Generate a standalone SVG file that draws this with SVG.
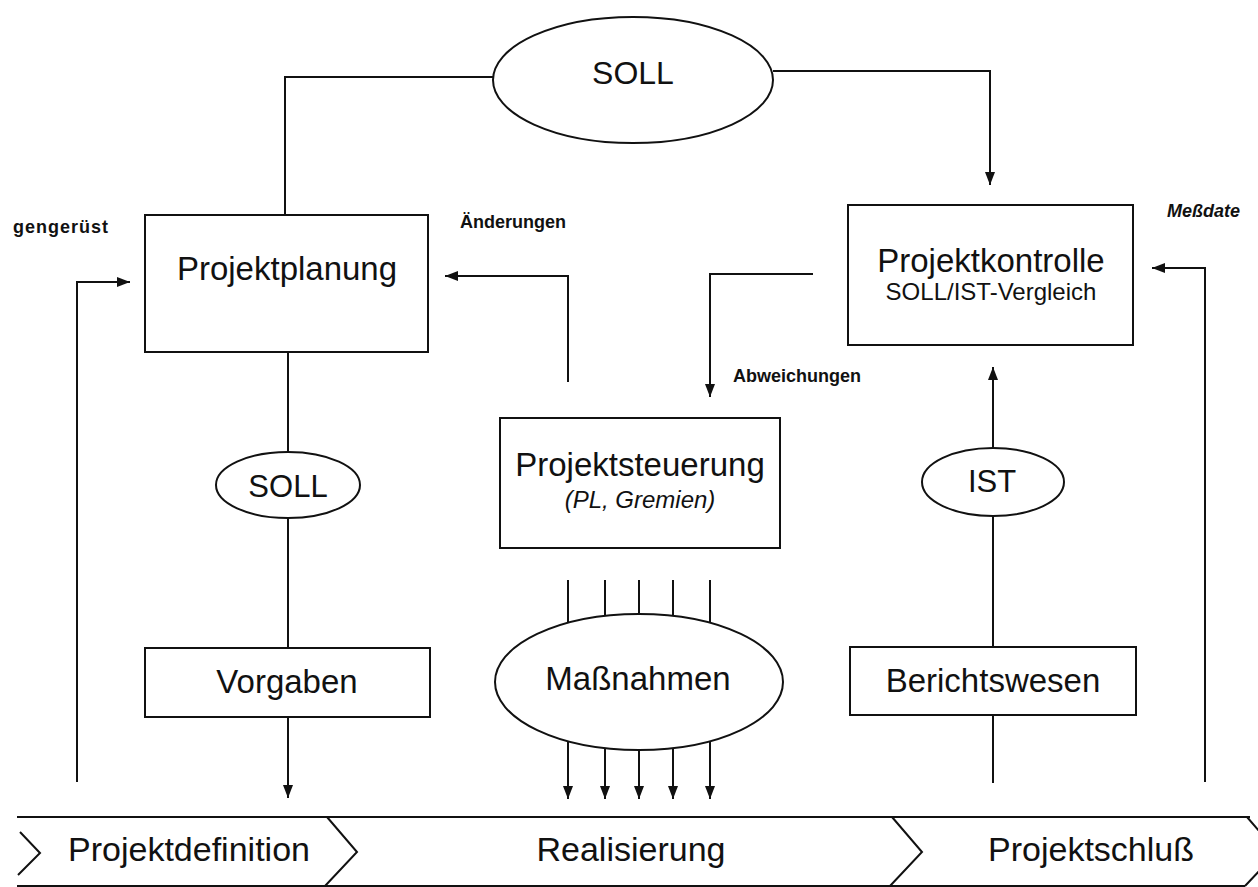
<svg xmlns="http://www.w3.org/2000/svg" width="1258" height="887" viewBox="0 0 1258 887">
<style>
.s{fill:none;stroke:#111;stroke-width:2}
.b{fill:#fff;stroke:#111;stroke-width:2}
.t{font-family:"Liberation Sans",Arial,sans-serif;fill:#111;text-anchor:middle}
.big{font-size:33px}
.mid{font-size:24px}
.lab{font-family:"Liberation Sans",Arial,sans-serif;fill:#111;font-size:18px;font-weight:bold}
</style>
<defs>
<marker id="ah" markerUnits="userSpaceOnUse" markerWidth="14" markerHeight="12" refX="13" refY="5" orient="auto">
<path d="M0,0 L13,5 L0,10 z" fill="#111"/>
</marker>
</defs>
<rect width="1258" height="887" fill="#fff"/>

<g id="connectors">
<polyline class="s" points="493,77 285,77 285,215"/>
<polyline class="s" points="773,71 990,71 990,185" marker-end="url(#ah)"/>
<polyline class="s" points="77,782 77,282 130,282" marker-end="url(#ah)"/>
<polyline class="s" points="568,382 568,276 445,276" marker-end="url(#ah)"/>
<polyline class="s" points="813,274 710,274 710,397" marker-end="url(#ah)"/>
<polyline class="s" points="1205,782 1205,268 1152,268" marker-end="url(#ah)"/>
<line class="s" x1="993" y1="448" x2="993" y2="367" marker-end="url(#ah)"/>
<line class="s" x1="288" y1="352" x2="288" y2="453"/>
<line class="s" x1="288" y1="518" x2="288" y2="648"/>
<line class="s" x1="288" y1="717" x2="288" y2="798" marker-end="url(#ah)"/>
<line class="s" x1="993" y1="515" x2="993" y2="647"/>
<line class="s" x1="993" y1="715" x2="993" y2="783"/>
<line class="s" x1="568" y1="580" x2="568" y2="623"/>
<line class="s" x1="605" y1="580" x2="605" y2="616"/>
<line class="s" x1="639" y1="580" x2="639" y2="614"/>
<line class="s" x1="673" y1="580" x2="673" y2="616"/>
<line class="s" x1="710" y1="580" x2="710" y2="623"/>
<line class="s" x1="568" y1="741" x2="568" y2="799" marker-end="url(#ah)"/>
<line class="s" x1="605" y1="748" x2="605" y2="799" marker-end="url(#ah)"/>
<line class="s" x1="639" y1="750" x2="639" y2="799" marker-end="url(#ah)"/>
<line class="s" x1="673" y1="748" x2="673" y2="799" marker-end="url(#ah)"/>
<line class="s" x1="710" y1="741" x2="710" y2="799" marker-end="url(#ah)"/>
</g>

<g id="soll-top">
<ellipse class="b" cx="633" cy="80" rx="140" ry="63"/>
<text class="t" x="633" y="84" style="font-size:32px">SOLL</text>
</g>

<g id="projektplanung">
<rect class="b" x="145" y="215" width="283" height="137"/>
<text class="t big" x="287" y="280">Projektplanung</text>
</g>

<g id="projektkontrolle">
<rect class="b" x="848" y="205" width="285" height="140"/>
<text class="t big" x="991" y="272">Projektkontrolle</text>
<text class="t mid" x="991" y="300">SOLL/IST-Vergleich</text>
</g>

<g id="projektsteuerung">
<rect class="b" x="500" y="418" width="280" height="130"/>
<text class="t big" x="640" y="476">Projektsteuerung</text>
<text class="t mid" x="640" y="508" font-style="italic">(PL, Gremien)</text>
</g>

<g id="soll-mid">
<ellipse class="b" cx="288" cy="485" rx="72" ry="33"/>
<text class="t" x="288" y="497" style="font-size:31px">SOLL</text>
</g>

<g id="ist">
<ellipse class="b" cx="993" cy="482" rx="71" ry="34"/>
<text class="t" x="992" y="492" style="font-size:31px">IST</text>
</g>

<g id="vorgaben">
<rect class="b" x="145" y="648" width="285" height="69"/>
<text class="t big" x="287" y="693">Vorgaben</text>
</g>

<g id="massnahmen">
<ellipse class="b" cx="639" cy="682" rx="144" ry="68"/>
<text class="t big" x="638" y="690">Maßnahmen</text>
</g>

<g id="berichtswesen">
<rect class="b" x="850" y="647" width="286" height="68"/>
<text class="t big" x="993" y="692">Berichtswesen</text>
</g>

<g id="labels">
<text class="lab" x="13" y="233" style="font-size:18px;letter-spacing:1px">gengerüst</text>
<text class="lab" x="460" y="228">Änderungen</text>
<text class="lab" x="733" y="382">Abweichungen</text>
<text class="lab" x="1167" y="217" font-style="italic">Meßdate</text>
</g>

<g id="phasen">
<line class="s" x1="17" y1="817" x2="1250" y2="817"/>
<line class="s" x1="17" y1="886" x2="1245" y2="886"/>
<polyline class="s" points="20,832 40,853 18,875"/>
<polyline class="s" points="327,817 357,852 325,886"/>
<polyline class="s" points="892,817 922,852 890,886"/>
<polyline class="s" points="1247,817 1277,852 1245,886"/>
<text class="t" x="189" y="861" style="font-size:34px">Projektdefinition</text>
<text class="t" x="631" y="861" style="font-size:34px">Realisierung</text>
<text class="t" x="1091" y="861" style="font-size:34px">Projektschluß</text>
</g>
</svg>
